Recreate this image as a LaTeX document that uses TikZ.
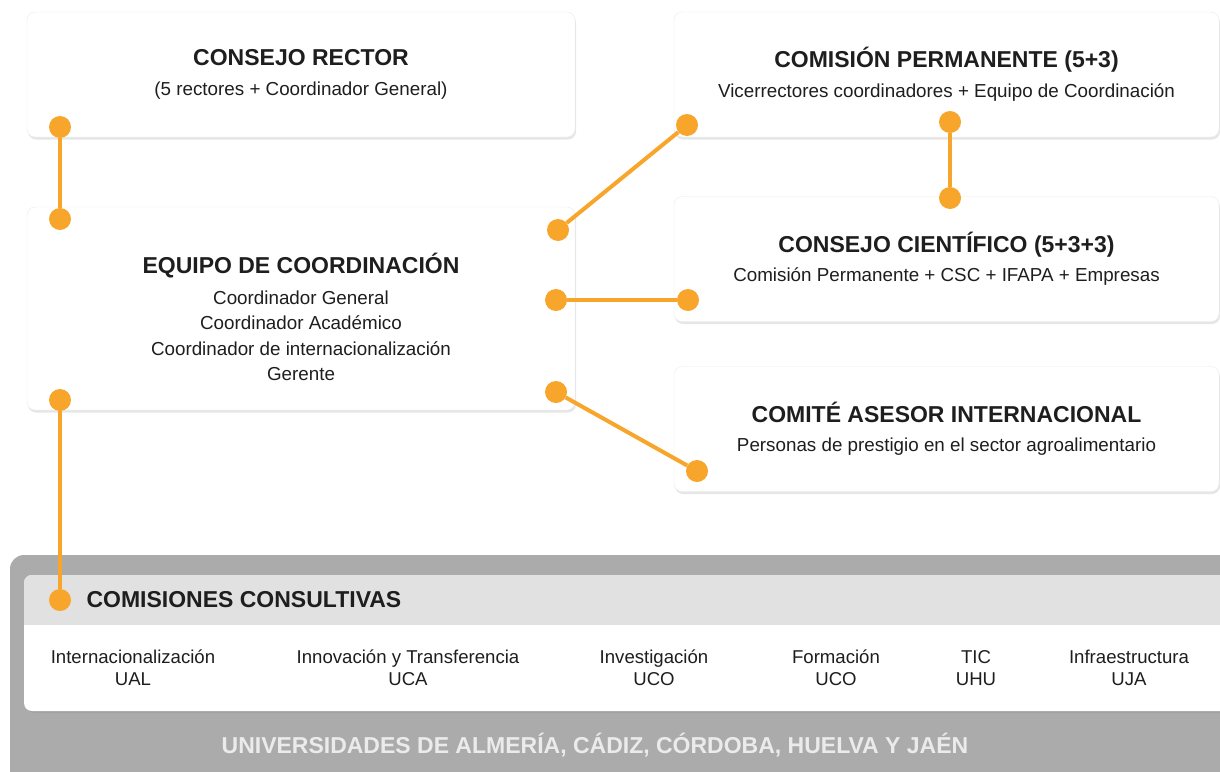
\documentclass[tikz,border=0pt]{standalone}
\usepackage{fontspec}
\setmainfont{Liberation Sans}
\usetikzlibrary{shadows,positioning,calc}
\definecolor{dotorange}{HTML}{F8A52B}
\definecolor{panelgray}{HTML}{ABABAB}
\definecolor{bandgray}{HTML}{E1E1E1}
\definecolor{inkgray}{HTML}{1E1E1E}
\newcommand{\boxtitle}[1]{{\bfseries\fontsize{23}{27}\selectfont #1}}

\begin{document}
\begin{tikzpicture}[
  x=1pt, y=-1pt,
  every node/.style={text=inkgray, font=\fontsize{18.8}{25.5}\selectfont},
  orgbox/.style={draw=black!8, fill=white, rounded corners=8pt,
    minimum width=548pt, minimum height=125pt, align=center,
    drop shadow={opacity=0.2, shadow xshift=1pt, shadow yshift=-2.5pt}},
  dot/.style={circle, fill=dotorange, inner sep=0pt, minimum size=22pt},
  link/.style={draw=dotorange, line width=4pt},
  item/.style={align=center, font=\fontsize{18.6}{22}\selectfont}
]
\useasboundingbox (0,0) rectangle (1220,771);

% ---- bottom panel ----
\fill[panelgray, rounded corners=14pt] (10,555) rectangle (1260,800);
\fill[white, rounded corners=8pt, drop shadow={opacity=0.2, shadow yshift=-2pt}] (24,575) rectangle (1250,711);
\fill[bandgray, rounded corners=8pt] (24,575) rectangle (1250,640);
\fill[white] (24,625) rectangle (1250,645);

\node (univ) at (595,745) {\color{black!8}\bfseries\fontsize{23}{26}\selectfont UNIVERSIDADES DE ALMERÍA, CÁDIZ, CÓRDOBA, HUELVA Y JAÉN};
\node (comis) [anchor=west] at (83,600) {\boxtitle{COMISIONES CONSULTIVAS}};

% ---- boxes ----
\node (rector) [orgbox] at (301,74.5)
  {\boxtitle{CONSEJO RECTOR}\\[4pt] (5 rectores + Coordinador General)};
\node (perm) [orgbox, minimum width=545pt] at (946.5,74.5)
  {\boxtitle{COMISIÓN PERMANENTE (5+3)}\\[4pt] Vicerrectores coordinadores + Equipo de Coordinación};
\node (equipo) [orgbox, minimum height=203pt] at (301,308.5)
  {\boxtitle{\rule{0pt}{38pt}EQUIPO DE COORDINACIÓN}\\[5pt] Coordinador General\\ Coordinador Académico\\
   Coordinador de internacionalización\\ Gerente};
\node (cient) [orgbox, minimum width=545pt] at (946.5,259)
  {\boxtitle{CONSEJO CIENTÍFICO (5+3+3)}\\[4pt] Comisión Permanente + CSC + IFAPA + Empresas};
\node (asesor) [orgbox, minimum width=545pt] at (946.5,429)
  {\boxtitle{COMITÉ ASESOR INTERNACIONAL}\\[4pt] Personas de prestigio en el sector agroalimentario};

% ---- consultative commissions ----
\node (c1) [item] at (133,668) {Internacionalización\\UAL};
\node (c2) [item] at (408,668) {Innovación y Transferencia\\UCA};
\node (c3) [item] at (654,668) {Investigación\\UCO};
\node (c4) [item] at (836,668) {Formación\\UCO};
\node (c5) [item] at (976,668) {TIC\\UHU};
\node (c6) [item] at (1129,668) {Infraestructura\\UJA};

% ---- dots ----
\node (d1) [dot] at (60,127) {};
\node (d2) [dot] at (60,219) {};
\node (d3) [dot] at (60,400) {};
\node (d4) [dot] at (60,600) {};
\node (d5) [dot] at (558,230) {};
\node (d6) [dot] at (687,125) {};
\node (d7) [dot] at (556,300) {};
\node (d8) [dot] at (688,300) {};
\node (d9) [dot] at (556,392) {};
\node (d10) [dot] at (697,471) {};
\node (d11) [dot] at (950,122) {};
\node (d12) [dot] at (950,198) {};

% ---- links ----
\draw[link] (d1) -- (d2);
\draw[link] (d3) -- (d4);
\draw[link] (d5) -- (d6);
\draw[link] (d7) -- (d8);
\draw[link] (d9) -- (d10);
\draw[link] (d11) -- (d12);

\end{tikzpicture}
\end{document}
